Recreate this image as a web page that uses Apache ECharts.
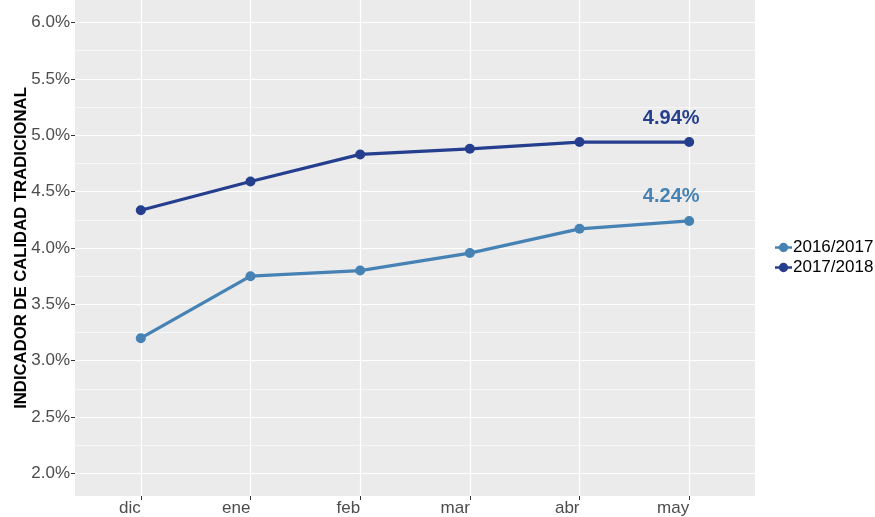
<!DOCTYPE html>
<html>
<head>
<meta charset="utf-8">
<script src="https://cdn.jsdelivr.net/npm/echarts@6/dist/echarts.min.js"></script>
<style>html,body{margin:0;padding:0;background:#fff}#c{width:875px;height:517px}</style>
</head>
<body>
<div id="c"></div>
<script>
var categories = ['dic', 'ene', 'feb', 'mar', 'abr', 'may'];
var s2016 = [3.20, 3.75, 3.80, 3.955, 4.17, 4.24];
var s2018 = [4.335, 4.59, 4.83, 4.88, 4.94, 4.94];
var seriesNames = ['2016/2017', '2017/2018'];
var colors = ['#4682B4', '#253E8E'];
var yMajor = [2.0, 2.5, 3.0, 3.5, 4.0, 4.5, 5.0, 5.5, 6.0];
var yMinor = [2.25, 2.75, 3.25, 3.75, 4.25, 4.75, 5.25, 5.75];
var xTicks = [0, 1, 2, 3, 4, 5];
var lastLabels = ['4.24%', '4.94%'];

var FONT = 'Liberation Sans, Arial, sans-serif';
function toPairs(arr) { return arr.map(function (v, i) {
  var item = { value: [i, v] };
  if (i === arr.length - 1) { item.label = { show: true }; }
  return item;
}); }

var chart = echarts.init(document.getElementById('c'), null, { renderer: 'canvas' });
var legendIcon = 'path://M0,7h20v3h-20z M10,3a5.5,5.5 0 1,1 0,11a5.5,5.5 0 1,1 0,-11z';
chart.setOption({
  animation: false,
  textStyle: { fontFamily: FONT },
  grid: { left: 75, top: 0, width: 680, height: 496, show: true, backgroundColor: '#EBEBEB', borderWidth: 0, outerBoundsMode: 'none', containLabel: false },
  legend: {
    orient: 'vertical', left: 770, top: 234, itemWidth: 17, itemHeight: 14, itemGap: 3,
    icon: legendIcon,
    textStyle: { fontSize: 17, color: '#000', fontFamily: FONT, padding: [0, 0, 0, -4] },
    data: seriesNames
  },
  xAxis: {
    type: 'value', min: -0.6, max: 5.6,
    axisLine: { show: false, onZero: false },
    axisTick: { show: true, customValues: xTicks, length: 4, lineStyle: { color: '#333', width: 1 } },
    axisLabel: { customValues: xTicks, formatter: function (v) { return categories[Math.round(v)]; },
      fontSize: 17, color: '#4D4D4D', align: 'right', margin: 4, fontFamily: FONT },
    splitLine: { show: true, lineStyle: { color: '#FFFFFF', width: 1.2 } }
  },
  yAxis: [{
    type: 'value', min: 1.8, max: 6.2,
    name: 'INDICADOR DE CALIDAD TRADICIONAL', nameLocation: 'middle', nameGap: 45, nameMoveOverlap: false,
    nameTextStyle: { fontSize: 16.7, fontWeight: 'bold', color: '#000', fontFamily: FONT },
    axisLine: { show: false, onZero: false },
    axisTick: { show: true, customValues: yMajor, length: 4, lineStyle: { color: '#333', width: 1 } },
    axisLabel: { customValues: yMajor, formatter: function (v) { return v.toFixed(1) + '%'; },
      fontSize: 17, color: '#4D4D4D', margin: 5, fontFamily: FONT },
    splitLine: { show: true, lineStyle: { color: '#FFFFFF', width: 1.2 } }
  }, {
    type: 'value', min: 1.8, max: 6.2, position: 'left',
    axisLine: { show: false, onZero: false },
    axisTick: { show: false, customValues: yMinor },
    axisLabel: { show: false, customValues: yMinor },
    splitLine: { show: true, lineStyle: { color: '#FFFFFF', width: 0.6 } }
  }],
  series: [s2016, s2018].map(function (arr, k) {
    return {
      name: seriesNames[k], type: 'line', yAxisIndex: 0,
      data: toPairs(arr),
      symbol: 'circle', symbolSize: 10,
      lineStyle: { width: 3.3, color: colors[k] },
      itemStyle: { color: colors[k] },
      label: { show: false, position: 'top', distance: 5, offset: [-18, -4],
        formatter: function () { return lastLabels[k]; },
        fontSize: 20, fontWeight: 'bold', color: colors[k], fontFamily: FONT },
      z: 5
    };
  })
});
</script>
</body>
</html>
